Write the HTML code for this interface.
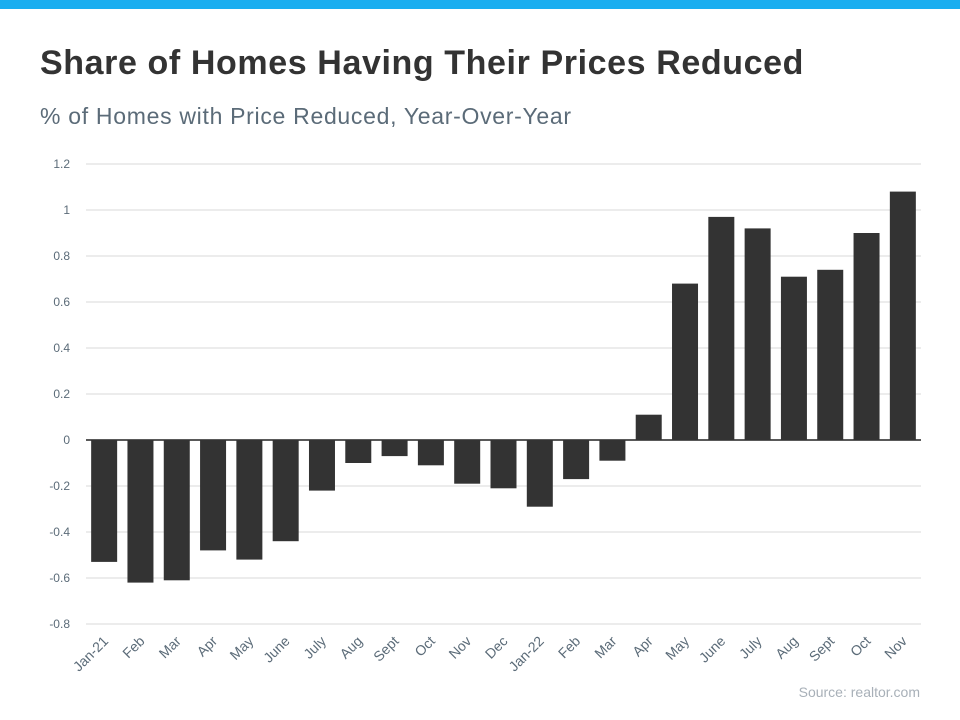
<!DOCTYPE html>
<html><head><meta charset="utf-8"><style>
body{margin:0;width:960px;height:720px;background:#fff;overflow:hidden;font-family:"Liberation Sans",sans-serif;position:relative}
#topbar{position:absolute;left:0;top:0;width:960px;height:9px;background:#1aaef0}
#title{position:absolute;left:40px;top:44px;font-size:34px;font-weight:bold;color:#333;letter-spacing:0.6px}
#subtitle{position:absolute;left:40px;top:103px;font-size:23px;color:#5b6b78;letter-spacing:0.7px}
#source{position:absolute;right:40px;top:684px;font-size:14px;color:#a8b0b8}
svg{position:absolute;left:0;top:0}
</style></head><body>
<div id="topbar"></div>
<div id="title">Share of Homes Having Their Prices Reduced</div>
<div id="subtitle">% of Homes with Price Reduced, Year-Over-Year</div>
<div id="source">Source: realtor.com</div>
<svg id="chart" width="960" height="720"></svg>
<script>
const categories=["Jan-21","Feb","Mar","Apr","May","June","July","Aug","Sept","Oct","Nov","Dec","Jan-22","Feb","Mar","Apr","May","June","July","Aug","Sept","Oct","Nov"];
const values=[-0.53,-0.62,-0.61,-0.48,-0.52,-0.44,-0.22,-0.1,-0.07,-0.11,-0.19,-0.21,-0.29,-0.17,-0.09,0.11,0.68,0.97,0.92,0.71,0.74,0.9,1.08];
const yTicks=[-0.8,-0.6,-0.4,-0.2,0,0.2,0.4,0.6,0.8,1,1.2];
const tickLabels=["-0.8","-0.6","-0.4","-0.2","0","0.2","0.4","0.6","0.8","1","1.2"];
const NS="http://www.w3.org/2000/svg";
const svg=document.getElementById('chart');
const x0=86,x1=921,band=(x1-x0)/categories.length,bw=26;
const y=v=>440-v*230;
const xc=i=>x0+band*(i+0.5);
function mk(t,a){const e=document.createElementNS(NS,t);for(const k in a)e.setAttribute(k,a[k]);svg.appendChild(e);return e;}
yTicks.forEach((v,i)=>{
 const l=mk('line',{x1:x0,x2:x1,y1:y(v),y2:y(v),stroke:v===0?'#222':'#d9d9d9','stroke-width':v===0?1.5:1});
 
 
 const t=mk('text',{x:70,y:y(v)+4,'text-anchor':'end','font-size':12,fill:'#5b6b78','font-family':'Liberation Sans, sans-serif'});
 t.textContent=tickLabels[i];
 
 
});
values.forEach((v,i)=>{
 const r=mk('rect',{x:xc(i)-bw/2,y:Math.min(y(v),y(0)),width:bw,height:Math.abs(y(v)-y(0)),fill:'#333'});
 
 
 const cx=xc(i)+5,cy=642;
 const t=mk('text',{x:cx,y:cy,'text-anchor':'end','font-size':14,fill:'#5b6b78','font-family':'Liberation Sans, sans-serif',transform:`rotate(-45 ${cx} ${cy})`});
 t.textContent=categories[i];
 
 
});
</script>
</body></html>
